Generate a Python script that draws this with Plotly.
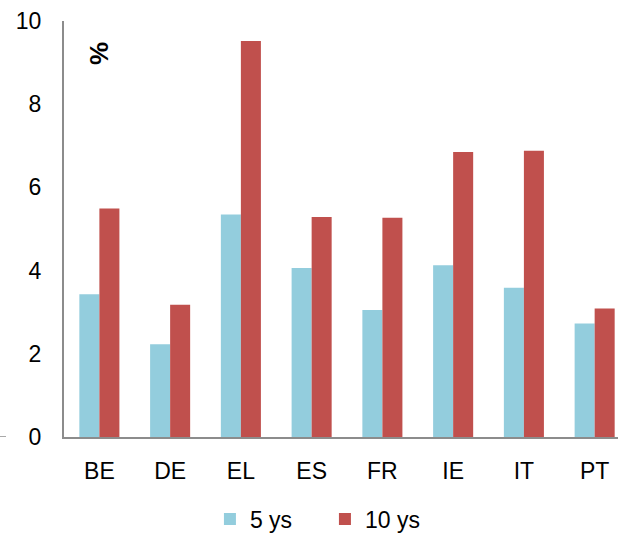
import plotly.graph_objects as go

countries = ["BE", "DE", "EL", "ES", "FR", "IE", "IT", "PT"]
five_year = [3.43, 2.23, 5.35, 4.06, 3.05, 4.13, 3.59, 2.73]
ten_year = [5.49, 3.18, 9.52, 5.29, 5.27, 6.85, 6.88, 3.09]
y_ticks = [0, 2, 4, 6, 8, 10]

FONT = "Arial, Liberation Sans, sans-serif"
AXIS_GREY = "#8c8c8c"
FS = 23

fig = go.Figure()
fig.add_trace(go.Bar(x=countries, y=five_year, name="5 ys",
                     marker=dict(color="#93CDDD", line=dict(width=0))))
fig.add_trace(go.Bar(x=countries, y=ten_year, name="10 ys",
                     marker=dict(color="#C0504D", line=dict(width=0))))

fig.update_layout(
    width=618, height=533,
    margin=dict(l=64, r=0, t=21, b=96, autoexpand=False),
    paper_bgcolor="white", plot_bgcolor="white",
    barmode="group", bargap=0.434, bargroupgap=0,
    font=dict(family=FONT, size=FS, color="black"),
    showlegend=True,
    legend=dict(orientation="h", x=0.471, xanchor="center", y=-0.197, yanchor="middle",
                font=dict(family=FONT, size=FS), entrywidth=70, itemwidth=30,
                bgcolor="rgba(0,0,0,0)"),
    xaxis=dict(range=[-0.5, 7.33], showline=True, linecolor=AXIS_GREY, linewidth=2,
               ticks="", showgrid=False, zeroline=False, ticklabelstandoff=12,
               tickfont=dict(family=FONT, size=FS)),
    yaxis=dict(range=[0, 10], tickvals=y_ticks, showline=True, linecolor=AXIS_GREY,
               linewidth=2, ticks="", showgrid=False, zeroline=False,
               ticklabelstandoff=16, tickfont=dict(family=FONT, size=FS)),
    annotations=[dict(text="<b>%</b>", textangle=-90, xref="paper", yref="paper",
                      x=(99 - 64) / 554, y=(437 - 54) / 416, xanchor="center",
                      yanchor="middle", showarrow=False,
                      font=dict(family=FONT, size=26))],
    shapes=[dict(type="line", xref="paper", yref="y", x0=-64 / 554, x1=-58 / 554,
                 y0=0, y1=0, line=dict(color=AXIS_GREY, width=1.5))],
)

fig.write_html("out.html")
